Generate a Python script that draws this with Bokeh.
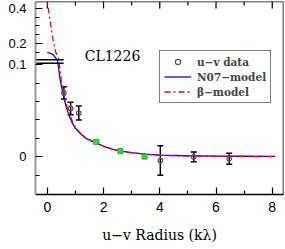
import numpy as np
from bokeh.plotting import figure
from bokeh.models import (ColumnDataSource, FixedTicker, LinearAxis, Range1d, Legend,
                          LegendItem, Whisker, TeeHead, Label, CustomJSTickFormatter, Span)
from bokeh.embed import file_html
from bokeh.resources import INLINE

# ---------------- data ----------------
uv_x = [0.59, 0.83, 1.12, 4.02, 5.21, 6.47]
uv_y = [0.0694, 0.0525, 0.0475, -0.004, 0.0, -0.002]
uv_err = [0.0067, 0.0068, 0.0076, 0.016, 0.0054, 0.006]

green_x = [1.74, 2.60, 3.46]
green_y = [0.0163, 0.0062, 0.0003]

n07_x = [0.0, 0.1, 0.2, 0.3, 0.37, 0.45, 0.5, 0.6, 0.7, 0.8, 0.9, 1.0, 1.2, 1.4, 1.7,
         2.0, 2.3, 2.6, 3.0, 3.5, 4.0, 5.0, 6.0, 7.0, 8.1]
n07_y = [0.148, 0.146, 0.137, 0.118, 0.101, 0.085, 0.077, 0.0625, 0.0515, 0.043, 0.036,
         0.031, 0.0245, 0.0195, 0.0158, 0.0115, 0.0085, 0.0063, 0.0045, 0.003, 0.0019,
         0.0012, 0.0009, 0.0007, 0.0006]

beta_x = [-0.1, 0.0, 0.1, 0.2, 0.3, 0.4, 0.44, 0.5, 0.6, 0.7, 0.8, 0.9, 1.0, 1.2, 1.4,
          1.7, 2.0, 2.6, 3.0, 3.5, 4.0, 5.0, 6.0, 7.0, 8.1]
beta_y = [0.56, 0.435, 0.33, 0.225, 0.15, 0.114, 0.098, 0.082, 0.066, 0.054, 0.045, 0.038,
          0.032, 0.025, 0.020, 0.0158, 0.0115, 0.0062, 0.0043, 0.0027, 0.0016, 0.0009,
          0.0006, 0.0004, 0.0003]

x_major = [0, 2, 4, 6, 8]
x_minor = [1, 3, 5, 7]
y_major = [0.0, 0.1, 0.2, 0.4]
y_major_labels = ["0", "0.1", "0.2", "0.4"]
y_minor_lower = [-0.02, 0.02, 0.04, 0.06, 0.08]
y_minor_upper = [0.15, 0.25, 0.3, 0.35]

# ---------------- broken y scale ----------------
BREAK = 0.1          # data value where the axis is broken
UPPER_BASE = 0.1038  # plot coordinate of the upper segment's 0.1
UPPER_SCALE = 0.1913 # compression of the upper segment


def to_plot(v):
    v = np.asarray(v, dtype=float)
    return np.where(v <= BREAK, v, UPPER_BASE + (v - BREAK) * UPPER_SCALE)


X0, X1 = -0.42, 8.4
Y0, Y1 = -0.0408, 0.1685

p = figure(width=285, height=249, x_range=Range1d(X0, X1),
           y_range=Range1d(Y0, Y1), output_backend="svg",
           toolbar_location=None, x_axis_location=None, y_axis_location=None,
           min_border_left=35, min_border_right=2, min_border_top=1, min_border_bottom=55)
for g in p.grid:
    g.visible = False
p.outline_line_color = None
p.background_fill_color = "white"


def style_ticks(ax, major_in=7, minor_in=4):
    ax.major_tick_in = major_in
    ax.major_tick_out = 0
    ax.minor_tick_in = minor_in
    ax.minor_tick_out = 0
    ax.major_tick_line_color = "black"
    ax.minor_tick_line_color = "black"
    ax.major_tick_line_width = 1.2
    ax.minor_tick_line_width = 1.2


# bottom axis
bottom = LinearAxis(ticker=FixedTicker(ticks=x_major, minor_ticks=x_minor),
                    axis_label="u−v Radius (kλ)")
style_ticks(bottom)
bottom.axis_line_color = "black"
bottom.axis_line_width = 1.3
bottom.major_label_text_font = "Liberation Sans"
bottom.major_label_text_font_size = "14px"
bottom.major_label_text_color = "black"
bottom.major_label_standoff = 7
bottom.axis_label_text_font = "DejaVu Serif"
bottom.axis_label_text_font_size = "14px"
bottom.axis_label_text_font_style = "normal"
bottom.axis_label_text_color = "black"
bottom.axis_label_standoff = 12
p.add_layout(bottom, "below")

# left (broken) axis
major_pos = [float(v) if v <= BREAK else float(to_plot(v)) for v in y_major]
minor_pos = [float(v) for v in y_minor_lower] + [float(to_plot(v)) for v in y_minor_upper]
left = LinearAxis(ticker=FixedTicker(ticks=major_pos, minor_ticks=minor_pos))
left.formatter = CustomJSTickFormatter(args=dict(pos=major_pos, lab=y_major_labels), code="""
for (let i = 0; i < pos.length; i++) {
  if (Math.abs(tick - pos[i]) < 1e-6) { return lab[i]; }
}
return "";
""")
style_ticks(left, major_in=7, minor_in=4)
left.axis_line_color = "#999999"
left.axis_line_width = 2
left.major_label_text_font = "Liberation Sans"
left.major_label_text_font_size = "13px"
left.major_label_text_color = "black"
left.major_label_standoff = 9
p.add_layout(left, "left")

# top and right frame lines, top ticks
p.add_layout(Span(location=Y1, dimension="width", line_color="black", line_width=1.5))
p.add_layout(Span(location=X1, dimension="height", line_color="black", line_width=1.5))
p.ray(x=x_major, y=[Y1] * len(x_major), length=7, length_units="screen",
      angle=-np.pi / 2, line_color="black", line_width=1.2)
p.ray(x=x_minor, y=[Y1] * len(x_minor), length=4, length_units="screen",
      angle=-np.pi / 2, line_color="black", line_width=1.2)

# ---------------- curves ----------------
r_blue = p.line(n07_x, to_plot(n07_y), line_color="#0000ff", line_width=1.3)
r_red = p.line(beta_x, to_plot(beta_y), line_color="#ff0000", line_width=1.3,
               line_dash="6 3 2 3")

# ---------------- points ----------------
src_green = ColumnDataSource(dict(x=green_x, y=to_plot(green_y)))
p.scatter("x", "y", source=src_green, marker="square", size=5,
          fill_color="#33dd33", line_color="#22aa22", line_width=1)

src_uv = ColumnDataSource(dict(
    x=uv_x, y=to_plot(uv_y),
    upper=to_plot(np.array(uv_y) + np.array(uv_err)),
    lower=to_plot(np.array(uv_y) - np.array(uv_err))))
p.add_layout(Whisker(source=src_uv, base="x", upper="upper", lower="lower",
                     line_color="black", line_width=1.5,
                     upper_head=TeeHead(size=6, line_color="black", line_width=1.5),
                     lower_head=TeeHead(size=6, line_color="black", line_width=1.5)))
r_uv = p.scatter("x", "y", source=src_uv, marker="circle", size=4.5,
                 fill_color=None, line_color="#555555", line_width=1.2)

# ---------------- axis break marks ----------------
break_x0 = [X0, X0]
break_x1 = [0.58, 0.58]
break_y = [0.1016, 0.1054]
p.segment(x0=break_x0, x1=break_x1, y0=break_y, y1=break_y,
          line_color="black", line_width=1.5)

# ---------------- texts ----------------
p.add_layout(Label(x=1.33, y=float(to_plot(0.131)), text="CL1226",
                   text_font="DejaVu Serif", text_font_size="14px",
                   text_baseline="middle", text_color="black"))

legend = Legend(items=[LegendItem(label="u−v data", renderers=[r_uv]),
                       LegendItem(label="N07−model", renderers=[r_blue]),
                       LegendItem(label="β−model", renderers=[r_red])],
                location=(124, 91))
legend.label_text_font = "DejaVu Serif"
legend.label_text_font_style = "bold"
legend.label_text_font_size = "10.5px"
legend.label_height = 13
legend.glyph_height = 13
legend.glyph_width = 27
legend.label_standoff = 6
legend.spacing = 2
legend.padding = 4
legend.margin = 0
legend.border_line_color = "black"
legend.border_line_width = 1
legend.background_fill_color = "white"
legend.background_fill_alpha = 1
p.add_layout(legend)

open("out.html", "w").write(file_html(p, INLINE))
